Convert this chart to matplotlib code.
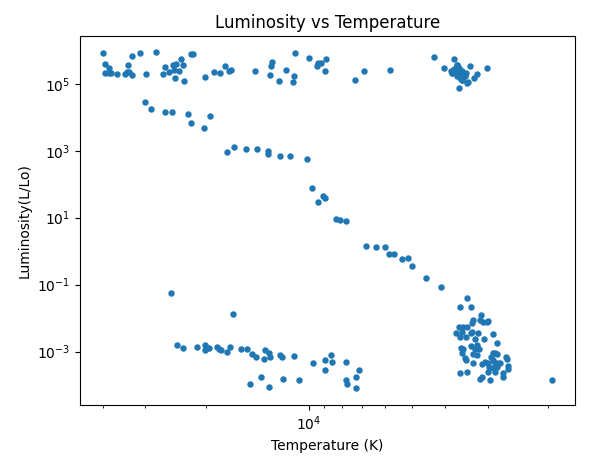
import matplotlib
matplotlib.use("Agg")
import matplotlib.pyplot as plt
from matplotlib.ticker import NullFormatter

# values (Temperature in K, Luminosity in L/Lo)

# hot supergiants (top left band)
sg_hot_temp = [40000, 39360, 38230, 39280, 38230, 37870, 36380, 34400, 33870, 33650,
               33420, 32750, 32750, 31030, 29810, 27870, 26590, 26230, 25540, 24860,
               24360, 24690, 23880, 24530, 23560, 23240, 23080, 22020, 21770, 20040,
               18870, 18120, 17520, 17130, 16890, 14320, 12950, 12860, 12770, 12190,
               11620, 11060, 11130, 10980, 9960, 9450, 9410, 9220, 8880, 8940,
               7310, 6880, 5775]
sg_hot_lum = [818000, 392000, 291000, 207000, 207000, 207000, 197000, 197000, 231000, 366000,
              231000, 184000, 679000, 818000, 197000, 877000, 197000, 312000, 221000, 366000,
              392000, 259000, 247000, 146000, 541000, 366000, 124000, 764000, 764000, 157000,
              221000, 207000, 341000, 237000, 254000, 237000, 180000, 341000, 440000, 119000,
              254000, 168000, 111000, 818000, 580000, 334000, 428000, 411000, 541000, 237000,
              128000, 237000, 254000]

# cool supergiants (top right cluster)
sg_cool_temp = [4295, 3755, 4015, 3695, 3846, 3805, 3813, 3762, 3655, 3630,
                3572, 3534, 3494, 3614, 3572, 3454, 3417, 3282, 3216, 3007,
                3630, 3712, 3695, 3534, 3470, 3371, 3588, 3510, 3557, 3680]
sg_cool_lum = [621000, 541000, 291000, 358000, 247000, 207000, 215000, 272000, 291000, 291000,
               247000, 207000, 171000, 146000, 130000, 108000, 116000, 146000, 193000, 291000,
               73500, 231000, 171000, 163000, 215000, 334000, 215000, 171000, 130000, 358000]

# giants
giant_temp = [30130, 28820, 26230, 25130, 22470, 22110, 20180, 19460]
giant_lum = [28000, 17300, 14100, 14100, 12300, 6600, 4690, 10700]

# main sequence
ms_temp = [17290, 16490, 15270, 14130, 13120, 13120, 12150, 11310, 10090,
           9760, 9370, 9060, 8980, 8300, 8080, 7760, 6785, 6370, 5973,
           5813, 5621, 5326, 5116, 4980, 4532, 4098]
ms_lum = [898, 1270, 1100, 1100, 962, 782, 682, 682, 555,
          75.3, 28.7, 43.4, 37.8, 8.91, 8.32, 7.76, 1.39, 1.30, 1.30,
          0.80, 0.80, 0.57, 0.61, 0.35, 0.153, 0.0826]

# white dwarfs
wd_temp = [25200, 16600, 24190, 23240, 21150, 20040, 20040, 19780, 19510, 18490,
           18240, 18000, 17290, 16940, 15730, 15110, 14610, 14220, 13480, 13390,
           13030, 12950, 12100, 11940, 11010, 9690, 8940, 8940, 8590, 8530,
           7760, 7110, 7760, 7710, 7260, 7260, 14810, 13750, 13030, 11860, 10650]
wd_lum = [0.0547, 0.0129, 0.00152, 0.00124, 0.00133, 0.00152, 0.00108, 0.00124, 0.00124, 0.00133,
          0.00116, 0.00108, 0.000942, 0.00133, 0.00116, 0.00116, 0.00082, 0.000668, 0.000582, 0.00108,
          0.000879, 0.000668, 0.000766, 0.000668, 0.000714, 0.000442, 0.000543, 0.000273, 0.000766, 0.000473,
          0.000473, 0.000273, 0.000137, 0.000104, 0.000169, 0.0000791, 0.000104, 0.000169, 0.0000847, 0.000147,
          0.000137]

# red and brown dwarfs
rd_temp = [3440, 3606, 3348, 3131, 3304, 3326, 3152, 3090, 2987, 3007,
           3630, 3534, 3440, 3704, 3557, 3355, 3326, 3194, 2888, 3606,
           3463, 3260, 3069, 2811, 3348, 3216, 3582, 3534, 3260, 3173,
           3557, 3304, 3486, 3216, 2888, 2849, 2811, 2927, 2646, 2629,
           3463, 3304, 3110, 3048, 2987, 2888, 2849, 2793, 2755, 2611,
           2967, 2888, 2811, 2611, 3606, 3440, 2987, 2849, 2701, 3110,
           2701, 3152, 2947, 1942]
rd_lum = [0.0395, 0.0208, 0.0208, 0.0123, 0.0087, 0.0069, 0.0087, 0.0074, 0.0081, 0.0074,
          0.00526, 0.00526, 0.00526, 0.00356, 0.00389, 0.00348, 0.00373, 0.00348, 0.00325, 0.00265,
          0.00265, 0.00231, 0.00231, 0.00175, 0.00145, 0.00152, 0.00124, 0.00116, 0.00116, 0.00116,
          0.000879, 0.00082, 0.000624, 0.000766, 0.000879, 0.000879, 0.00082, 0.000668, 0.000668, 0.000582,
          0.000543, 0.000442, 0.000412, 0.000473, 0.000442, 0.000543, 0.000442, 0.000442, 0.000442, 0.000374,
          0.000336, 0.000313, 0.000336, 0.000292, 0.000231, 0.000248, 0.000248, 0.000248, 0.000231, 0.000176,
          0.000169, 0.000147, 0.00014, 0.00014]

temperature = sg_hot_temp + sg_cool_temp + giant_temp + ms_temp + wd_temp + rd_temp
luminosity = sg_hot_lum + sg_cool_lum + giant_lum + ms_lum + wd_lum + rd_lum

fig = plt.figure(figsize=(5.99, 4.70), dpi=100)
ax = fig.add_axes([0.1336, 0.1383, 0.8264, 0.7851])

ax.scatter(temperature, luminosity, s=13)
ax.set_xscale("log")
ax.set_yscale("log")
ax.set_xlim(46560, 1667)  # hot stars on the left
ax.set_ylim(2.52e-5, 2.69e6)
# no labels on the minor ticks
ax.xaxis.set_minor_formatter(NullFormatter())
ax.yaxis.set_minor_formatter(NullFormatter())

ax.set_title("Luminosity vs Temperature")
ax.set_xlabel("Temperature (K)")
ax.set_ylabel("Luminosity(L/Lo)")

fig.savefig("out.png", dpi=100)
